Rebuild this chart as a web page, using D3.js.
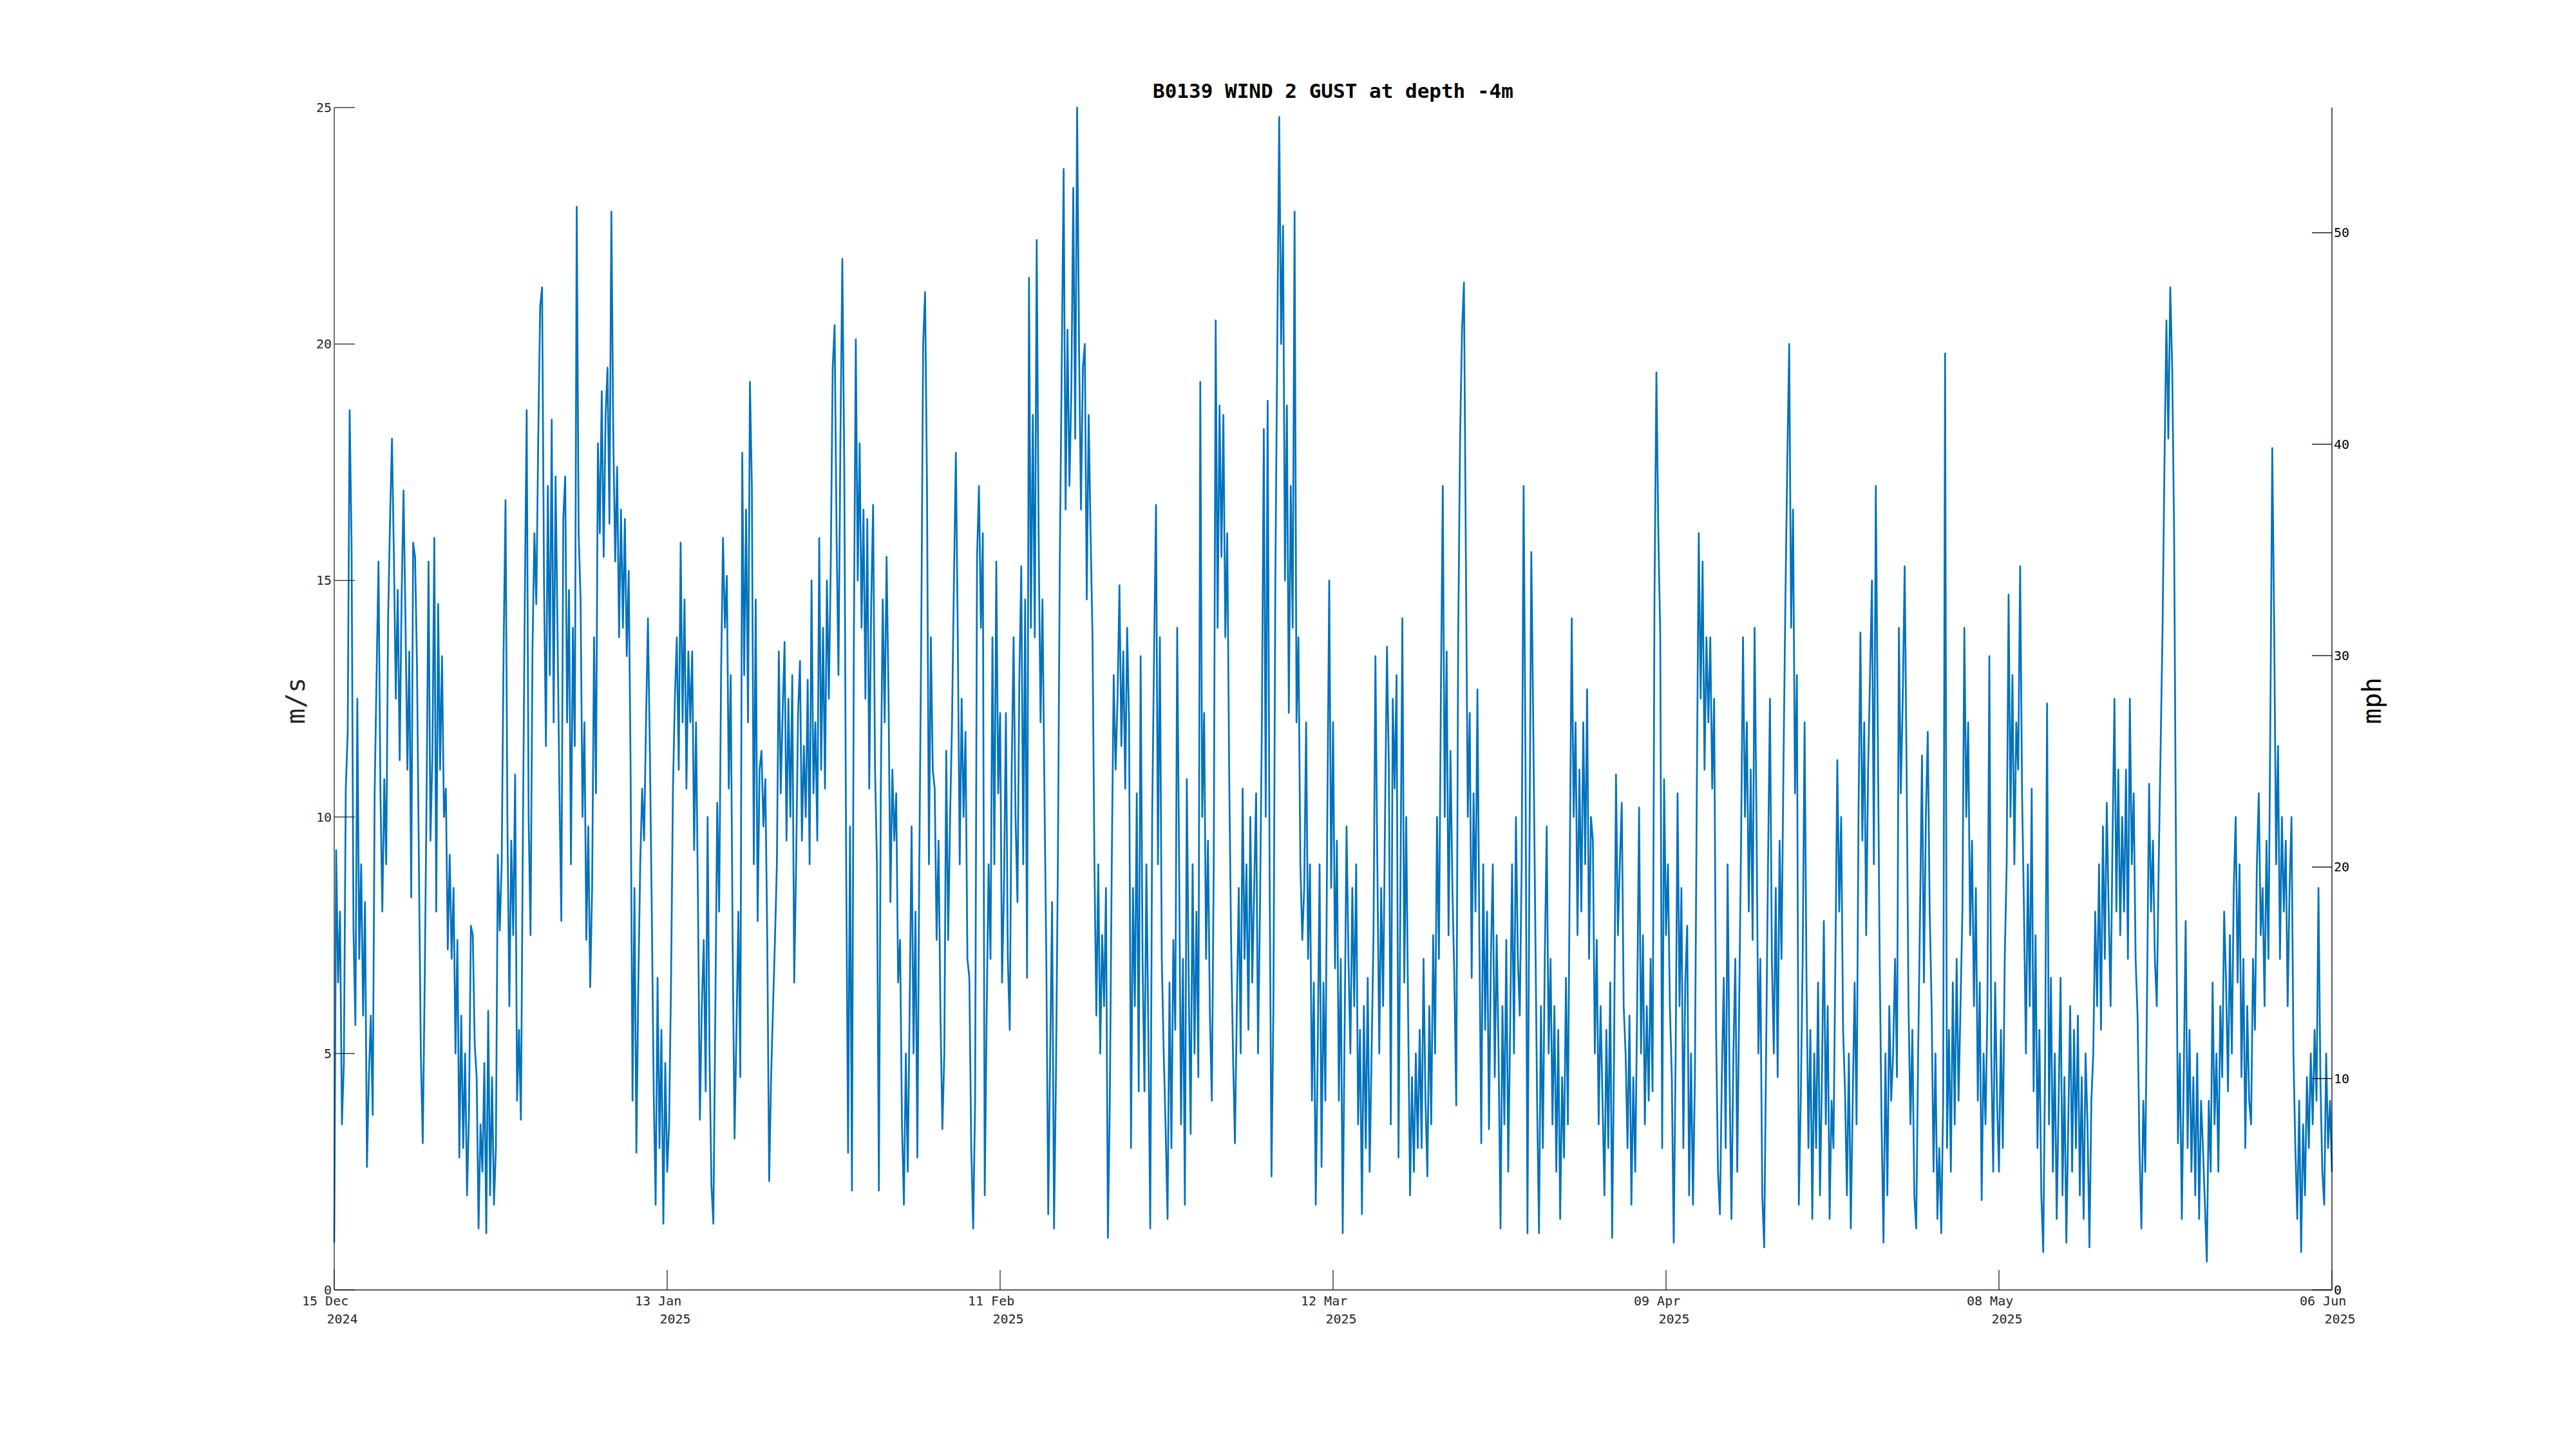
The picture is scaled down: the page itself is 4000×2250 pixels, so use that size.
<!DOCTYPE html>
<html>
<head>
<meta charset="utf-8">
<script src="https://cdn.jsdelivr.net/npm/d3@7"></script>
<style>
html,body{margin:0;padding:0;background:#fff;}
svg{display:block;}
text{font-family:"DejaVu Sans Mono",monospace;}
</style>
</head>
<body>
<script>
// ---- DATA (4-hourly gust values, m/s) ----
const seriesStart = "2024-12-15T00:00:00Z";
const stepHours = 4;
const gustDec = [
1.0,9.3,6.5,8.0,3.5,4.8,
10.6,11.8,18.6,15.8,7.6,5.6,
12.5,7.0,9.0,5.8,8.2,2.6,
4.5,5.8,3.7,10.5,13.0,15.4,
10.5,8.0,10.8,9.0,14.2,16.3,
18.0,15.5,12.5,14.8,11.2,14.6,
16.9,14.2,11.0,13.5,8.3,15.8,
15.5,13.2,9.0,5.0,3.1,6.5,
10.5,15.4,9.5,11.3,15.9,8.0,
14.5,11.0,13.4,10.0,10.6,7.2,
9.2,7.0,8.5,5.0,7.4,2.8,
5.8,3.0,5.0,2.0,3.7,7.7,
7.5,5.2,4.5,1.3,3.5,2.5,
4.8,1.2,5.9,2.0,4.5,1.8,
3.0,9.2,7.6,9.0,13.5,16.7,
9.8,6.0,9.5,7.5,10.9,4.0,
5.5,3.6,9.5,14.5,18.6,10.0
];
const gustJan = [
7.5,13.5,16.0,14.5,18.0,20.8,
21.2,15.0,11.5,17.0,13.0,18.4,
12.0,17.2,14.0,10.6,7.8,16.3,
17.2,12.0,14.8,9.0,14.0,11.5,
22.9,16.0,14.6,10.0,12.0,7.4,
9.8,6.4,8.5,13.8,10.5,17.9,
16.0,19.0,15.5,18.5,19.5,16.2,
22.8,18.0,15.4,17.4,13.8,16.5,
14.0,16.3,13.4,15.2,11.0,4.0,
8.5,2.9,6.5,9.0,10.6,9.5,
12.0,14.2,11.4,8.0,4.2,1.8,
6.6,3.0,5.5,1.4,4.8,2.5,
3.5,6.5,10.6,12.5,13.8,11.0,
15.8,12.0,14.6,10.6,13.5,12.0,
13.5,9.3,12.0,8.2,3.6,6.0,
7.4,4.2,10.0,5.0,2.2,1.4,
5.8,10.3,8.0,13.0,15.9,14.0,
15.1,10.6,13.0,7.4,3.2,5.5,
8.0,4.5,17.7,13.0,16.5,12.0,
19.2,17.0,9.0,14.6,7.8,11.0,
11.4,9.8,10.8,7.4,2.3,4.5,
6.0,7.4,9.0,13.5,10.5,12.2,
13.7,9.5,12.5,10.0,13.0,6.5,
9.0,12.2,13.3,9.5,11.5,10.0,
12.9,9.0,15.0,10.5,12.0,9.5,
15.9,11.0,14.0,10.6,15.0,12.5,
15.4,19.5,20.4,16.0,13.0,17.9,
21.8,17.5,9.0,2.9,9.8,2.1,
13.8,20.1,15.0,17.9,14.0,16.5,
12.5,16.3,10.6,14.5,16.6,11.0,
9.0,2.1,10.6,14.6,12.0,15.5
];
const gustFeb = [
12.6,8.2,11.0,9.5,10.5,6.5,
7.4,3.5,1.8,5.0,2.5,6.0,
9.8,5.0,8.0,2.8,9.0,13.8,
20.0,21.1,17.0,9.0,13.8,11.0,
10.6,7.4,9.5,5.8,3.4,5.0,
11.4,7.4,10.0,12.0,15.0,17.7,
13.8,9.0,12.5,10.0,11.8,7.0,
6.6,3.0,1.3,4.0,15.5,17.0,
14.0,16.0,2.0,5.8,9.0,7.0,
13.8,9.0,15.4,10.5,12.2,6.5,
8.5,12.2,7.0,5.5,11.0,13.8,
10.0,8.2,13.0,15.3,9.0,14.6,
6.6,21.4,14.0,18.5,13.8,22.2,
16.0,12.0,14.6,10.6,7.0,1.6,
5.0,8.2,1.3,4.5,9.0,15.4,
19.5,23.7,16.5,20.3,17.0,19.0,
23.3,18.0,25.0,20.0,16.5,19.5,
20.0,14.6,18.5,16.0,13.8,9.0,
5.8,9.0,5.0,7.5,6.0,8.5,
1.1,4.0,9.0,13.0,11.0,12.5,
14.9,11.5,13.5,10.6,14.0,12.0,
3.0,8.5,6.0,10.5,4.2,13.4,
7.0,4.2,9.0,5.5,1.3,10.0,
13.5,16.6,9.0,13.8,7.0,5.0,
3.4,1.5,6.5,3.0,7.4,5.5,
14.0,9.0,3.5,7.0,1.8,10.8,
6.5,3.3,9.0,5.0,8.0,4.5,
19.2,10.0,12.2,7.0,9.5,5.8
];
const gustMar = [
4.0,9.0,20.5,14.0,18.7,15.5,
18.5,13.8,16.0,11.0,7.4,5.0,
3.1,6.0,8.5,5.0,10.6,7.0,
9.0,5.5,10.0,6.5,8.5,10.5,
5.0,8.0,12.0,18.2,10.0,18.8,
9.0,2.4,6.0,15.0,20.0,24.8,
20.0,22.5,15.0,18.7,12.2,17.0,
14.0,22.8,12.0,13.8,9.0,7.4,
8.5,12.0,7.0,9.0,4.0,6.5,
1.8,5.0,9.0,2.6,6.5,4.0,
10.0,15.0,8.5,12.0,6.8,9.5,
4.0,7.0,1.2,5.5,9.8,7.0,
5.0,8.5,6.0,9.0,3.5,5.5,
1.6,6.0,3.0,6.6,2.5,5.0,
7.5,13.4,9.0,5.0,8.5,6.0,
10.0,13.6,11.0,3.5,12.5,10.6,
13.0,2.8,8.5,14.2,6.5,10.0,
5.8,2.0,4.5,2.5,5.0,3.0,
5.5,3.0,7.0,4.0,2.4,6.0,
3.5,7.5,5.0,10.0,7.0,12.5,
17.0,10.0,13.5,7.5,11.4,8.5,
6.6,3.9,13.8,18.0,20.3,21.3,
15.5,10.0,12.2,6.6,10.5,8.0,
12.7,7.5,3.1,9.0,5.5,8.0,
3.4,7.0,9.0,4.5,7.5,5.0,
1.3,6.0,3.5,7.4,2.5,5.5,
9.0,5.0,10.0,7.0,5.8,9.0,
17.0,11.0,1.2,9.0,15.6,12.0,
8.0,4.0,1.2,6.0,3.0,7.0,
9.8,5.0,7.0,3.5,6.0,2.5,
5.5,1.5,4.5,2.8,6.6,3.5
];
const gustApr = [
9.0,14.2,10.0,12.0,7.5,11.0,
8.0,12.0,9.0,12.7,7.0,10.0,
9.5,5.0,7.4,3.5,6.0,4.0,
2.0,5.5,3.0,6.5,1.1,5.0,
10.9,7.5,9.0,10.3,6.0,5.0,
3.0,5.8,1.8,4.5,2.5,6.0,
10.2,5.0,7.5,3.5,6.0,4.0,
7.0,4.2,14.6,19.4,16.0,13.8,
3.0,10.8,7.5,9.0,6.0,4.5,
1.0,5.0,10.5,6.0,8.5,3.0,
6.5,7.7,2.0,5.0,1.8,4.5,
10.6,16.0,12.5,15.4,11.0,13.8,
12.0,13.8,10.6,12.5,5.5,2.5,
1.6,4.5,6.6,3.0,9.0,4.5,
1.5,5.0,7.0,2.5,6.0,9.5,
13.8,10.0,12.0,8.0,11.0,7.4,
14.0,10.0,5.0,7.0,2.0,0.9,
5.0,9.0,12.5,7.0,5.0,8.5,
4.5,9.5,7.0,11.0,14.5,17.5,
20.0,14.0,16.5,10.5,13.0,1.8,
4.0,7.0,12.0,6.5,3.0,5.5,
1.5,5.0,3.0,6.5,2.0,4.5,
7.8,3.5,6.0,1.5,4.0,3.0,
7.0,11.2,8.0,10.0,5.5,4.2,
2.0,5.0,1.3,4.0,6.5,3.5,
10.0,13.9,9.5,12.0,7.5,11.0,
13.0,15.0,9.0,17.0,12.0,7.0,
3.5,1.0,5.0,2.0,6.0,4.0,
5.0,7.0,4.5,14.0,10.5,12.5,
15.3,11.0,6.0,3.5,5.5,2.0
];
const gustMay = [
1.3,5.0,8.0,11.3,6.5,10.0,
11.8,8.0,6.0,2.5,5.0,1.5,
3.0,1.2,4.0,19.8,3.0,5.5,
2.5,6.5,3.5,7.0,4.0,6.0,
8.0,14.0,10.0,12.0,7.5,9.5,
6.0,8.5,4.0,6.5,1.9,5.0,
3.5,6.0,13.4,5.0,2.5,6.5,
4.0,2.5,5.5,3.0,7.0,9.0,
14.7,10.0,13.0,9.0,12.0,11.0,
15.3,10.5,8.0,5.0,9.0,6.0,
10.6,4.2,7.5,3.0,5.5,2.0,
0.8,5.0,12.4,3.5,6.6,2.5,
5.0,1.5,4.0,6.6,2.0,4.5,
1.0,3.5,6.0,2.5,5.5,3.0,
5.8,2.0,4.5,1.5,5.0,3.5,
0.9,4.0,5.0,8.0,6.0,9.0,
5.5,9.8,7.0,10.3,8.0,6.0,
9.5,12.5,8.0,11.0,7.5,10.0,
8.0,11.0,7.0,12.5,9.0,10.5,
7.0,5.8,3.0,1.3,4.0,2.5,
6.5,10.7,8.0,9.5,7.0,6.0,
9.0,11.5,14.0,17.5,20.5,18.0,
21.2,19.5,16.0,9.0,3.1,5.0,
1.5,4.5,7.8,3.0,5.5,2.5,
4.5,2.0,5.0,1.5,4.0,3.0,
1.8,0.6,4.0,2.5,6.5,3.5,
5.0,2.5,6.0,4.5,8.0,6.5,
4.2,7.5,5.0,8.5,10.0,6.5,
9.0,4.5,7.0,3.0,6.0,4.0,
3.5,7.0,5.5,9.0,10.5,7.5,
8.5,6.0,9.5,7.0,12.0,17.8
];
const gustJun = [
14.0,9.0,11.5,7.0,10.0,8.0,
9.5,6.0,8.5,10.0,5.0,3.0,
1.5,4.0,0.8,3.5,2.0,4.5,
3.0,5.0,3.5,5.5,4.0,8.5,
4.5,2.5,1.8,5.0,3.0,4.0,
2.5
];
const xDomain = ["2024-12-15T00:00:00Z", "2025-06-06T00:00:00Z"];
const xTickDay = ["15 Dec","13 Jan","11 Feb","12 Mar","09 Apr","08 May","06 Jun"];
const xTickYear = ["2024","2025","2025","2025","2025","2025","2025"];
const yTicks = [0,5,10,15,20,25];
const yRightTicks = [0,10,20,30,40,50];
const yMax = 25;
const msToMph = 2.23694;
const titleText = "B0139 WIND 2 GUST at depth -4m";
const yLabelLeft = "m/s";
const yLabelRight = "mph";

// ---- LAYOUT ----
const W = 4000, H = 2250;
const L = 519, R = 3621, T = 167, B = 2003;
const axisColor = "#262626";
const lineColor = "#0072BD";

const svg = d3.select("body").append("svg").attr("width", W).attr("height", H);
svg.append("rect").attr("width", W).attr("height", H).attr("fill", "#fff");

const gust = [].concat(gustDec, gustJan, gustFeb, gustMar, gustApr, gustMay, gustJun);
const t0 = new Date(seriesStart).getTime();
const data = gust.map((v, i) => ({ t: new Date(t0 + i * stepHours * 3600000), v }));

const x = d3.scaleUtc().domain(xDomain.map(s => new Date(s))).range([L, R]);
const y = d3.scaleLinear().domain([0, yMax]).range([B, T]);
const yR = d3.scaleLinear().domain([0, yMax * msToMph]).range([B, T]);

// data line
const line = d3.line().x(d => x(d.t)).y(d => y(d.v));
svg.append("path").datum(data)
  .attr("d", line)
  .attr("fill", "none")
  .attr("stroke", lineColor)
  .attr("stroke-width", 2.7)
  .attr("stroke-linejoin", "round");

// axes lines
const ax = svg.append("g").attr("stroke", axisColor).attr("stroke-width", 1.3).attr("fill", "none");
ax.append("line").attr("x1", L).attr("x2", L).attr("y1", T).attr("y2", B);
ax.append("line").attr("x1", L).attr("x2", R).attr("y1", B).attr("y2", B);
ax.append("line").attr("x1", R).attr("x2", R).attr("y1", T).attr("y2", B).attr("stroke", "#000");

// x ticks (equally spaced across the domain)
const d0 = x.domain()[0].getTime(), d1 = x.domain()[1].getTime();
const xTickDates = xTickDay.map((_, i) => new Date(d0 + (d1 - d0) * i / (xTickDay.length - 1)));
const gx = svg.append("g");
xTickDates.forEach((dt, i) => {
  const px = x(dt);
  gx.append("line").attr("x1", px).attr("x2", px).attr("y1", B).attr("y2", B - 31)
    .attr("stroke", axisColor).attr("stroke-width", 1.3);
  gx.append("text").attr("x", px - 50).attr("y", B + 24)
    .attr("font-size", 20).attr("fill", axisColor).text(xTickDay[i]);
  gx.append("text").attr("x", px - 11.5).attr("y", B + 52)
    .attr("font-size", 20).attr("fill", axisColor).text(xTickYear[i]);
});

// left y ticks
const gy = svg.append("g");
yTicks.forEach(v => {
  const py = y(v);
  gy.append("line").attr("x1", L).attr("x2", L + 32).attr("y1", py).attr("y2", py)
    .attr("stroke", axisColor).attr("stroke-width", 1.3);
  gy.append("text").attr("x", L - 4).attr("y", py + 7).attr("text-anchor", "end")
    .attr("font-size", 20).attr("fill", axisColor).text(v);
});

// right y ticks (mph)
const gr = svg.append("g");
yRightTicks.forEach(v => {
  const py = yR(v);
  gr.append("line").attr("x1", R - 31).attr("x2", R).attr("y1", py).attr("y2", py)
    .attr("stroke", "#000").attr("stroke-width", 1.3);
  gr.append("text").attr("x", R + 3).attr("y", py + 7).attr("text-anchor", "start")
    .attr("font-size", 20).attr("fill", "#000").text(v);
});

// labels
svg.append("text").attr("transform", `translate(473,${(T + B) / 2 + 3}) rotate(-90)`)
  .attr("text-anchor", "middle").attr("font-size", 40).attr("fill", axisColor).text(yLabelLeft);
svg.append("text").attr("transform", `translate(3697,${(T + B) / 2 + 3}) rotate(-90)`)
  .attr("text-anchor", "middle").attr("font-size", 40).attr("fill", "#000").text(yLabelRight);

// title
svg.append("text").attr("x", (L + R) / 2).attr("y", 152).attr("text-anchor", "middle")
  .attr("font-size", 31).attr("font-weight", "bold").attr("fill", "#000").text(titleText);
</script>
</body>
</html>
